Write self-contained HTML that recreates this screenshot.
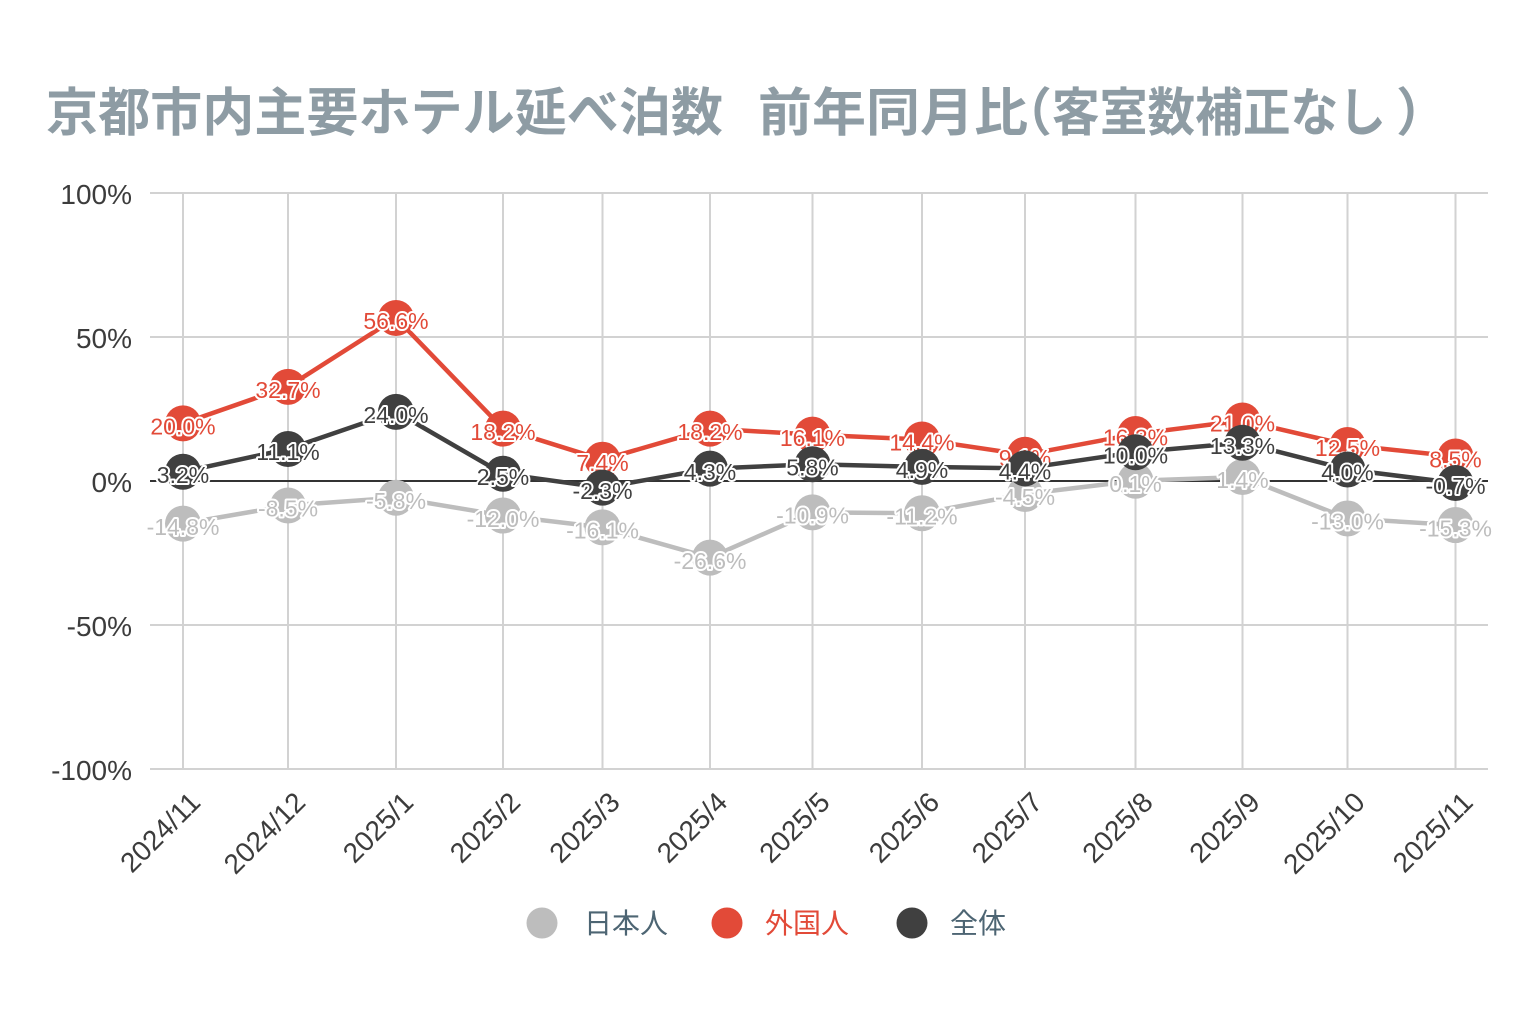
<!DOCTYPE html>
<html>
<head>
<meta charset="utf-8">
<style>
html,body{margin:0;padding:0;background:#fff;overflow:hidden;}
svg{display:block;}
.t{font-family:"Liberation Sans","Noto Sans CJK JP",sans-serif;font-weight:700;fill:#8e9ca4;font-size:52px;}
.ax{font-family:"Liberation Sans",sans-serif;font-size:28px;fill:#3c3c3c;}
.lb{font-family:"Liberation Sans",sans-serif;font-size:23px;text-anchor:middle;stroke:#fff;stroke-width:4;paint-order:stroke;stroke-linejoin:round;}
.lg{font-family:"Liberation Sans","Noto Sans CJK JP",sans-serif;font-size:28px;}
</style>
</head>
<body>
<svg width="1536" height="1024" viewBox="0 0 1536 1024" xmlns="http://www.w3.org/2000/svg">
<rect x="0" y="0" width="1536" height="1024" fill="#fff"/>

<!-- Title -->
<text class="t" x="46" y="131" textLength="677" lengthAdjust="spacingAndGlyphs">京都市内主要ホテル延べ泊数</text>
<text class="t" x="758" y="131" textLength="270" lengthAdjust="spacingAndGlyphs">前年同月比</text>
<text class="t" x="1000" y="131">（</text>
<text class="t" x="1052" y="131" textLength="334" lengthAdjust="spacingAndGlyphs">客室数補正なし</text>
<text class="t" x="1396" y="131">）</text>

<!-- Grid -->
<g stroke="#d2d2d2" stroke-width="2">
<line x1="150" y1="193" x2="1488" y2="193"/>
<line x1="150" y1="337" x2="1488" y2="337"/>
<line x1="150" y1="625" x2="1488" y2="625"/>
<line x1="150" y1="769" x2="1488" y2="769"/>
<line x1="183" y1="193" x2="183" y2="769"/>
<line x1="288" y1="193" x2="288" y2="769"/>
<line x1="396" y1="193" x2="396" y2="769"/>
<line x1="503" y1="193" x2="503" y2="769"/>
<line x1="602.5" y1="193" x2="602.5" y2="769"/>
<line x1="710" y1="193" x2="710" y2="769"/>
<line x1="812.5" y1="193" x2="812.5" y2="769"/>
<line x1="922" y1="193" x2="922" y2="769"/>
<line x1="1025" y1="193" x2="1025" y2="769"/>
<line x1="1135.5" y1="193" x2="1135.5" y2="769"/>
<line x1="1242.5" y1="193" x2="1242.5" y2="769"/>
<line x1="1347.5" y1="193" x2="1347.5" y2="769"/>
<line x1="1455.5" y1="193" x2="1455.5" y2="769"/>
</g>
<line x1="150" y1="481" x2="1488" y2="481" stroke="#333" stroke-width="2"/>

<!-- Y labels -->
<g class="ax" text-anchor="end">
<text x="132" y="204">100%</text>
<text x="132" y="348">50%</text>
<text x="132" y="492">0%</text>
<text x="132" y="636">-50%</text>
<text x="132" y="780">-100%</text>
</g>

<!-- X labels -->
<g class="ax" text-anchor="end">
<text transform="translate(202,804) rotate(-45)">2024/11</text>
<text transform="translate(307,804) rotate(-45)">2024/12</text>
<text transform="translate(415,804) rotate(-45)">2025/1</text>
<text transform="translate(522,804) rotate(-45)">2025/2</text>
<text transform="translate(621.5,804) rotate(-45)">2025/3</text>
<text transform="translate(729,804) rotate(-45)">2025/4</text>
<text transform="translate(831.5,804) rotate(-45)">2025/5</text>
<text transform="translate(941,804) rotate(-45)">2025/6</text>
<text transform="translate(1044,804) rotate(-45)">2025/7</text>
<text transform="translate(1154.5,804) rotate(-45)">2025/8</text>
<text transform="translate(1261.5,804) rotate(-45)">2025/9</text>
<text transform="translate(1366.5,804) rotate(-45)">2025/10</text>
<text transform="translate(1474.5,804) rotate(-45)">2025/11</text>
</g>

<!-- Series: 日本人 (gray) -->
<g>
<polyline fill="none" stroke="#bdbdbd" stroke-width="4.5" stroke-linejoin="round"
 points="183,523.62 288,505.48 396,497.7 503,515.56 602.5,527.37 710,557.61 812.5,512.39 922,513.26 1025,493.96 1135.5,480.71 1242.5,476.97 1347.5,518.44 1455.5,525.06"/>
<g fill="#bdbdbd">
<circle cx="183" cy="523.62" r="18"/>
<circle cx="288" cy="505.48" r="18"/>
<circle cx="396" cy="497.7" r="18"/>
<circle cx="503" cy="515.56" r="18"/>
<circle cx="602.5" cy="527.37" r="18"/>
<circle cx="710" cy="557.61" r="18"/>
<circle cx="812.5" cy="512.39" r="18"/>
<circle cx="922" cy="513.26" r="18"/>
<circle cx="1025" cy="493.96" r="18"/>
<circle cx="1135.5" cy="480.71" r="18"/>
<circle cx="1242.5" cy="476.97" r="18"/>
<circle cx="1347.5" cy="518.44" r="18"/>
<circle cx="1455.5" cy="525.06" r="18"/>
</g>
<g class="lb" fill="#bdbdbd">
<text x="183" y="534.8">-14.8%</text>
<text x="288" y="516.7">-8.5%</text>
<text x="396" y="508.9">-5.8%</text>
<text x="503" y="526.8">-12.0%</text>
<text x="602.5" y="538.6">-16.1%</text>
<text x="710" y="568.8">-26.6%</text>
<text x="812.5" y="523.6">-10.9%</text>
<text x="922" y="524.5">-11.2%</text>
<text x="1025" y="505.2">-4.5%</text>
<text x="1135.5" y="491.9">0.1%</text>
<text x="1242.5" y="488.2">1.4%</text>
<text x="1347.5" y="529.6">-13.0%</text>
<text x="1455.5" y="536.3">-15.3%</text>
</g>
</g>

<!-- Series: 外国人 (red) -->
<g>
<polyline fill="none" stroke="#e24a38" stroke-width="4.5" stroke-linejoin="round"
 points="183,423.4 288,386.82 396,317.99 503,428.58 602.5,459.69 710,428.58 812.5,434.63 922,439.53 1025,454.79 1135.5,434.06 1242.5,420.52 1347.5,445 1455.5,456.52"/>
<g fill="#e24a38">
<circle cx="183" cy="423.4" r="18"/>
<circle cx="288" cy="386.82" r="18"/>
<circle cx="396" cy="317.99" r="18"/>
<circle cx="503" cy="428.58" r="18"/>
<circle cx="602.5" cy="459.69" r="18"/>
<circle cx="710" cy="428.58" r="18"/>
<circle cx="812.5" cy="434.63" r="18"/>
<circle cx="922" cy="439.53" r="18"/>
<circle cx="1025" cy="454.79" r="18"/>
<circle cx="1135.5" cy="434.06" r="18"/>
<circle cx="1242.5" cy="420.52" r="18"/>
<circle cx="1347.5" cy="445" r="18"/>
<circle cx="1455.5" cy="456.52" r="18"/>
</g>
<g class="lb" fill="#e24a38">
<text x="183" y="434.6">20.0%</text>
<text x="288" y="398">32.7%</text>
<text x="396" y="329.2">56.6%</text>
<text x="503" y="439.8">18.2%</text>
<text x="602.5" y="470.9">7.4%</text>
<text x="710" y="439.8">18.2%</text>
<text x="812.5" y="445.8">16.1%</text>
<text x="922" y="450.7">14.4%</text>
<text x="1025" y="466">9.1%</text>
<text x="1135.5" y="445.3">16.3%</text>
<text x="1242.5" y="431.7">21.0%</text>
<text x="1347.5" y="456.2">12.5%</text>
<text x="1455.5" y="467.7">8.5%</text>
</g>
</g>

<!-- Series: 全体 (dark) -->
<g>
<polyline fill="none" stroke="#404040" stroke-width="4.5" stroke-linejoin="round"
 points="183,471.78 288,449.03 396,411.88 503,473.8 602.5,487.62 710,468.62 812.5,464.3 922,466.89 1025,468.33 1135.5,452.2 1242.5,442.7 1347.5,469.48 1455.5,483.02"/>
<g fill="#404040">
<circle cx="183" cy="471.78" r="18"/>
<circle cx="288" cy="449.03" r="18"/>
<circle cx="396" cy="411.88" r="18"/>
<circle cx="503" cy="473.8" r="18"/>
<circle cx="602.5" cy="487.62" r="18"/>
<circle cx="710" cy="468.62" r="18"/>
<circle cx="812.5" cy="464.3" r="18"/>
<circle cx="922" cy="466.89" r="18"/>
<circle cx="1025" cy="468.33" r="18"/>
<circle cx="1135.5" cy="452.2" r="18"/>
<circle cx="1242.5" cy="442.7" r="18"/>
<circle cx="1347.5" cy="469.48" r="18"/>
<circle cx="1455.5" cy="483.02" r="18"/>
</g>
<g class="lb" fill="#404040">
<text x="183" y="483">3.2%</text>
<text x="288" y="460.2">11.1%</text>
<text x="396" y="423.1">24.0%</text>
<text x="503" y="485">2.5%</text>
<text x="602.5" y="498.8">-2.3%</text>
<text x="710" y="479.8">4.3%</text>
<text x="812.5" y="475.5">5.8%</text>
<text x="922" y="478.1">4.9%</text>
<text x="1025" y="479.5">4.4%</text>
<text x="1135.5" y="463.4">10.0%</text>
<text x="1242.5" y="453.9">13.3%</text>
<text x="1347.5" y="480.7">4.0%</text>
<text x="1455.5" y="494.2">-0.7%</text>
</g>
</g>

<!-- Legend -->
<circle cx="542" cy="923" r="15.5" fill="#bdbdbd"/>
<text class="lg" x="584" y="933" fill="#4d6573">日本人</text>
<circle cx="727" cy="923" r="15.5" fill="#e24a38"/>
<text class="lg" x="765" y="933" fill="#e24a38">外国人</text>
<circle cx="912" cy="923" r="15.5" fill="#404040"/>
<text class="lg" x="950" y="933" fill="#4d6573">全体</text>
</svg>
</body>
</html>
